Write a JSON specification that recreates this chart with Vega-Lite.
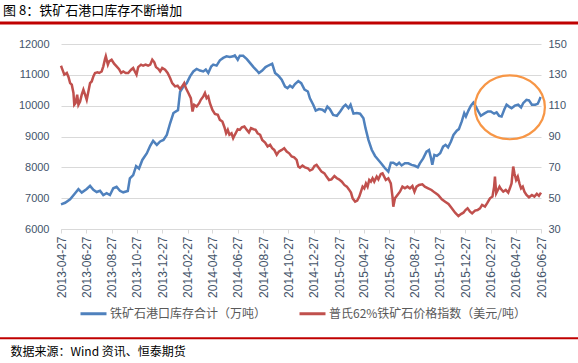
{
"$schema": "https://vega.github.io/schema/vega-lite/v6.json",
"width": 480,
"height": 185,
"autosize": {"type": "none"},
"padding": {"left": 61, "top": 44, "right": 37, "bottom": 134},
"background": "white",
"config": {
 "view": {"stroke": null},
 "font": "Noto Sans CJK SC",
 "axisX": {"labelAngle": 270, "labelFontSize": 12, "labelFont": "Liberation Sans", "labelColor": "#44546A", "labelFlush": false, "labelOverlap": false, "labelBound": false, "labelPadding": 3, "tickColor": "#D9D9D9", "tickSize": 4, "domainColor": "#D9D9D9", "grid": false, "titleX": -51, "titleY": 122, "titleAlign": "left", "titleAnchor": "start", "titleBaseline": "middle", "titleAngle": 0, "titleFontSize": 12, "titleFontWeight": "normal", "titleColor": "#000000", "titleFont": "Noto Sans CJK SC"},
 "axisLeft": {"grid": true, "gridColor": "#D9D9D9", "domain": false, "ticks": false, "labelPadding": 12, "labelFontSize": 11, "labelFont": "Liberation Sans", "labelColor": "#44546A", "labelOverlap": false},
 "axisRight": {"grid": false, "domain": false, "ticks": false, "labelPadding": 7, "labelFontSize": 11, "labelFont": "Liberation Sans", "labelColor": "#44546A", "labelOverlap": false}
},
"title": {"text": "图 8：铁矿石港口库存不断增加", "anchor": "start", "frame": "group", "dx": -58, "fontSize": 13, "fontWeight": "normal", "color": "#000000", "font": "Noto Sans CJK SC", "offset": 3},
"datasets": {
"inventory": [
{"date":"2013-04-27","value":6800},{"date":"2013-05-07","value":6850},{"date":"2013-05-19","value":6960},{"date":"2013-05-31","value":7160},{"date":"2013-06-08","value":7290},{"date":"2013-06-16","value":7180},{"date":"2013-06-28","value":7300},{"date":"2013-07-06","value":7400},{"date":"2013-07-14","value":7270},{"date":"2013-07-22","value":7200},{"date":"2013-07-30","value":7240},{"date":"2013-08-07","value":7100},{"date":"2013-08-15","value":7160},{"date":"2013-08-23","value":7100},{"date":"2013-08-31","value":7320},{"date":"2013-09-08","value":7370},{"date":"2013-09-16","value":7240},{"date":"2013-09-24","value":7190},{"date":"2013-10-05","value":7230},{"date":"2013-10-10","value":7640},{"date":"2013-10-18","value":7750},{"date":"2013-10-25","value":8040},{"date":"2013-11-01","value":7960},{"date":"2013-11-09","value":8240},{"date":"2013-11-20","value":8460},{"date":"2013-11-28","value":8700},{"date":"2013-12-05","value":8860},{"date":"2013-12-14","value":8730},{"date":"2013-12-22","value":8840},{"date":"2013-12-30","value":8890},{"date":"2014-01-07","value":9050},{"date":"2014-01-15","value":9430},{"date":"2014-01-23","value":9760},{"date":"2014-01-31","value":9830},{"date":"2014-02-03","value":9850},{"date":"2014-02-08","value":10450},{"date":"2014-02-16","value":10620},{"date":"2014-02-24","value":10730},{"date":"2014-03-04","value":10950},{"date":"2014-03-12","value":11110},{"date":"2014-03-20","value":11190},{"date":"2014-03-28","value":11140},{"date":"2014-04-05","value":11110},{"date":"2014-04-11","value":11170},{"date":"2014-04-17","value":11060},{"date":"2014-04-24","value":11270},{"date":"2014-04-29","value":11330},{"date":"2014-05-07","value":11300},{"date":"2014-05-15","value":11470},{"date":"2014-05-23","value":11550},{"date":"2014-05-31","value":11600},{"date":"2014-06-08","value":11580},{"date":"2014-06-16","value":11600},{"date":"2014-06-20","value":11630},{"date":"2014-06-27","value":11490},{"date":"2014-07-02","value":11620},{"date":"2014-07-10","value":11620},{"date":"2014-07-19","value":11510},{"date":"2014-07-27","value":11380},{"date":"2014-08-04","value":11250},{"date":"2014-08-12","value":11140},{"date":"2014-08-17","value":11060},{"date":"2014-08-25","value":11140},{"date":"2014-09-02","value":11250},{"date":"2014-09-10","value":11310},{"date":"2014-09-18","value":11360},{"date":"2014-09-25","value":11060},{"date":"2014-10-03","value":10970},{"date":"2014-10-11","value":10840},{"date":"2014-10-19","value":10620},{"date":"2014-10-25","value":10570},{"date":"2014-10-31","value":10650},{"date":"2014-11-06","value":10590},{"date":"2014-11-12","value":10700},{"date":"2014-11-20","value":10800},{"date":"2014-11-27","value":10730},{"date":"2014-12-05","value":10520},{"date":"2014-12-13","value":10460},{"date":"2014-12-18","value":10240},{"date":"2014-12-26","value":10030},{"date":"2015-01-01","value":9840},{"date":"2015-01-09","value":9890},{"date":"2015-01-17","value":9870},{"date":"2015-01-23","value":9810},{"date":"2015-01-29","value":9970},{"date":"2015-02-04","value":9890},{"date":"2015-02-12","value":9700},{"date":"2015-02-21","value":9670},{"date":"2015-03-01","value":9810},{"date":"2015-03-09","value":9970},{"date":"2015-03-14","value":10030},{"date":"2015-03-21","value":9920},{"date":"2015-03-26","value":10030},{"date":"2015-04-02","value":9740},{"date":"2015-04-10","value":9760},{"date":"2015-04-18","value":9740},{"date":"2015-04-26","value":9590},{"date":"2015-05-01","value":9270},{"date":"2015-05-08","value":8890},{"date":"2015-05-16","value":8570},{"date":"2015-05-24","value":8370},{"date":"2015-06-01","value":8240},{"date":"2015-06-09","value":8110},{"date":"2015-06-17","value":7970},{"date":"2015-06-25","value":7860},{"date":"2015-07-01","value":8150},{"date":"2015-07-07","value":8150},{"date":"2015-07-15","value":8080},{"date":"2015-07-21","value":8150},{"date":"2015-07-27","value":8060},{"date":"2015-08-04","value":8130},{"date":"2015-08-12","value":8130},{"date":"2015-08-20","value":8080},{"date":"2015-08-28","value":8050},{"date":"2015-09-04","value":8000},{"date":"2015-09-09","value":8130},{"date":"2015-09-17","value":8290},{"date":"2015-09-25","value":8510},{"date":"2015-10-01","value":8560},{"date":"2015-10-06","value":8290},{"date":"2015-10-09","value":8080},{"date":"2015-10-14","value":8400},{"date":"2015-10-20","value":8370},{"date":"2015-10-28","value":8460},{"date":"2015-11-04","value":8670},{"date":"2015-11-10","value":8730},{"date":"2015-11-16","value":8650},{"date":"2015-11-23","value":8840},{"date":"2015-11-29","value":9050},{"date":"2015-12-07","value":9190},{"date":"2015-12-12","value":9240},{"date":"2015-12-19","value":9490},{"date":"2015-12-25","value":9760},{"date":"2015-12-29","value":9650},{"date":"2016-01-04","value":9840},{"date":"2016-01-10","value":10000},{"date":"2016-01-16","value":10100},{"date":"2016-01-22","value":9970},{"date":"2016-01-28","value":9810},{"date":"2016-02-03","value":9670},{"date":"2016-02-11","value":9740},{"date":"2016-02-20","value":9810},{"date":"2016-02-27","value":9810},{"date":"2016-03-06","value":9740},{"date":"2016-03-12","value":9780},{"date":"2016-03-18","value":9670},{"date":"2016-03-24","value":9650},{"date":"2016-03-31","value":9890},{"date":"2016-04-05","value":10030},{"date":"2016-04-11","value":9970},{"date":"2016-04-17","value":9920},{"date":"2016-04-25","value":10000},{"date":"2016-05-03","value":10030},{"date":"2016-05-10","value":9940},{"date":"2016-05-15","value":10080},{"date":"2016-05-23","value":10190},{"date":"2016-05-29","value":10170},{"date":"2016-06-05","value":10030},{"date":"2016-06-13","value":10030},{"date":"2016-06-19","value":10060},{"date":"2016-06-22","value":10140},{"date":"2016-06-26","value":10280}
],
"price": [
{"date":"2013-04-27","value":135.9},{"date":"2013-04-30","value":133.7},{"date":"2013-05-05","value":130.1},{"date":"2013-05-11","value":131.2},{"date":"2013-05-15","value":128.6},{"date":"2013-05-19","value":124.6},{"date":"2013-05-23","value":123.6},{"date":"2013-05-27","value":118.2},{"date":"2013-05-29","value":110.6},{"date":"2013-06-01","value":111.6},{"date":"2013-06-05","value":117.1},{"date":"2013-06-08","value":110.6},{"date":"2013-06-12","value":112.7},{"date":"2013-06-16","value":117.1},{"date":"2013-06-20","value":120.3},{"date":"2013-06-24","value":117.1},{"date":"2013-06-28","value":113.8},{"date":"2013-07-02","value":119.2},{"date":"2013-07-06","value":124.6},{"date":"2013-07-10","value":125.7},{"date":"2013-07-14","value":129.0},{"date":"2013-07-18","value":131.2},{"date":"2013-07-24","value":131.6},{"date":"2013-07-28","value":131.2},{"date":"2013-08-03","value":132.2},{"date":"2013-08-07","value":135.5},{"date":"2013-08-11","value":140.2},{"date":"2013-08-13","value":142.0},{"date":"2013-08-18","value":136.6},{"date":"2013-08-21","value":138.7},{"date":"2013-08-27","value":139.8},{"date":"2013-09-02","value":137.2},{"date":"2013-09-08","value":135.5},{"date":"2013-09-14","value":133.7},{"date":"2013-09-19","value":131.2},{"date":"2013-09-24","value":132.2},{"date":"2013-09-30","value":131.2},{"date":"2013-10-06","value":131.2},{"date":"2013-10-13","value":133.3},{"date":"2013-10-18","value":134.4},{"date":"2013-10-22","value":132.2},{"date":"2013-10-26","value":130.1},{"date":"2013-10-30","value":135.0},{"date":"2013-11-06","value":136.6},{"date":"2013-11-11","value":135.9},{"date":"2013-11-17","value":136.6},{"date":"2013-11-23","value":135.9},{"date":"2013-11-28","value":136.6},{"date":"2013-12-03","value":139.8},{"date":"2013-12-08","value":138.1},{"date":"2013-12-12","value":135.0},{"date":"2013-12-18","value":133.7},{"date":"2013-12-22","value":132.2},{"date":"2013-12-27","value":134.4},{"date":"2014-01-03","value":133.3},{"date":"2014-01-09","value":131.2},{"date":"2014-01-15","value":127.9},{"date":"2014-01-20","value":124.6},{"date":"2014-01-27","value":122.5},{"date":"2014-02-02","value":122.9},{"date":"2014-02-08","value":120.8},{"date":"2014-02-13","value":122.5},{"date":"2014-02-18","value":124.6},{"date":"2014-02-22","value":121.4},{"date":"2014-02-28","value":118.2},{"date":"2014-03-06","value":114.9},{"date":"2014-03-10","value":106.2},{"date":"2014-03-14","value":110.6},{"date":"2014-03-20","value":109.5},{"date":"2014-03-26","value":111.6},{"date":"2014-03-30","value":113.8},{"date":"2014-04-05","value":116.0},{"date":"2014-04-09","value":118.2},{"date":"2014-04-13","value":114.9},{"date":"2014-04-17","value":116.0},{"date":"2014-04-21","value":111.6},{"date":"2014-04-27","value":107.3},{"date":"2014-05-03","value":104.7},{"date":"2014-05-10","value":104.1},{"date":"2014-05-15","value":100.8},{"date":"2014-05-21","value":99.7},{"date":"2014-05-26","value":96.0},{"date":"2014-05-30","value":92.1},{"date":"2014-06-03","value":94.3},{"date":"2014-06-07","value":91.1},{"date":"2014-06-12","value":92.1},{"date":"2014-06-16","value":88.9},{"date":"2014-06-20","value":91.1},{"date":"2014-06-27","value":94.7},{"date":"2014-07-02","value":94.3},{"date":"2014-07-07","value":96.0},{"date":"2014-07-13","value":96.5},{"date":"2014-07-19","value":94.3},{"date":"2014-07-24","value":92.6},{"date":"2014-07-29","value":95.4},{"date":"2014-08-04","value":94.7},{"date":"2014-08-09","value":94.3},{"date":"2014-08-14","value":92.1},{"date":"2014-08-20","value":91.1},{"date":"2014-08-25","value":87.8},{"date":"2014-09-01","value":86.1},{"date":"2014-09-07","value":83.5},{"date":"2014-09-13","value":84.6},{"date":"2014-09-18","value":82.4},{"date":"2014-09-23","value":81.3},{"date":"2014-09-29","value":78.1},{"date":"2014-10-04","value":80.2},{"date":"2014-10-11","value":81.3},{"date":"2014-10-17","value":82.4},{"date":"2014-10-23","value":80.2},{"date":"2014-10-29","value":79.1},{"date":"2014-11-04","value":77.0},{"date":"2014-11-10","value":76.5},{"date":"2014-11-16","value":74.8},{"date":"2014-11-20","value":70.5},{"date":"2014-11-24","value":69.8},{"date":"2014-11-30","value":71.1},{"date":"2014-12-06","value":70.0},{"date":"2014-12-13","value":69.4},{"date":"2014-12-18","value":67.9},{"date":"2014-12-24","value":68.7},{"date":"2014-12-29","value":70.9},{"date":"2015-01-03","value":71.6},{"date":"2015-01-09","value":69.4},{"date":"2015-01-15","value":67.2},{"date":"2015-01-22","value":66.1},{"date":"2015-01-27","value":64.0},{"date":"2015-02-02","value":61.8},{"date":"2015-02-08","value":62.2},{"date":"2015-02-15","value":64.4},{"date":"2015-02-21","value":62.9},{"date":"2015-02-26","value":62.2},{"date":"2015-03-05","value":60.7},{"date":"2015-03-11","value":58.6},{"date":"2015-03-17","value":57.5},{"date":"2015-03-22","value":55.7},{"date":"2015-03-27","value":53.6},{"date":"2015-03-31","value":49.9},{"date":"2015-04-06","value":47.7},{"date":"2015-04-11","value":48.4},{"date":"2015-04-16","value":51.0},{"date":"2015-04-20","value":54.2},{"date":"2015-04-24","value":57.5},{"date":"2015-04-28","value":56.4},{"date":"2015-05-02","value":59.6},{"date":"2015-05-06","value":57.5},{"date":"2015-05-10","value":61.8},{"date":"2015-05-14","value":60.7},{"date":"2015-05-18","value":62.9},{"date":"2015-05-22","value":60.7},{"date":"2015-05-28","value":64.0},{"date":"2015-06-01","value":62.2},{"date":"2015-06-07","value":65.7},{"date":"2015-06-11","value":66.1},{"date":"2015-06-15","value":64.0},{"date":"2015-06-19","value":61.8},{"date":"2015-06-25","value":62.9},{"date":"2015-07-01","value":59.6},{"date":"2015-07-05","value":51.0},{"date":"2015-07-07","value":44.5},{"date":"2015-07-11","value":49.9},{"date":"2015-07-17","value":52.1},{"date":"2015-07-23","value":54.2},{"date":"2015-07-29","value":57.5},{"date":"2015-08-04","value":56.4},{"date":"2015-08-10","value":57.5},{"date":"2015-08-16","value":56.4},{"date":"2015-08-22","value":57.9},{"date":"2015-08-27","value":54.2},{"date":"2015-09-01","value":57.5},{"date":"2015-09-07","value":58.6},{"date":"2015-09-15","value":59.0},{"date":"2015-09-21","value":57.5},{"date":"2015-09-29","value":56.4},{"date":"2015-10-07","value":55.3},{"date":"2015-10-15","value":53.6},{"date":"2015-10-23","value":52.1},{"date":"2015-11-01","value":49.2},{"date":"2015-11-09","value":47.7},{"date":"2015-11-17","value":46.2},{"date":"2015-11-25","value":43.4},{"date":"2015-12-03","value":40.6},{"date":"2015-12-11","value":38.4},{"date":"2015-12-17","value":39.7},{"date":"2015-12-23","value":40.6},{"date":"2015-12-28","value":42.3},{"date":"2016-01-02","value":43.4},{"date":"2016-01-08","value":41.2},{"date":"2016-01-13","value":40.1},{"date":"2016-01-20","value":41.9},{"date":"2016-01-26","value":42.3},{"date":"2016-02-01","value":43.4},{"date":"2016-02-06","value":45.6},{"date":"2016-02-13","value":44.5},{"date":"2016-02-19","value":47.1},{"date":"2016-02-25","value":49.9},{"date":"2016-03-02","value":51.0},{"date":"2016-03-06","value":57.5},{"date":"2016-03-08","value":64.0},{"date":"2016-03-11","value":53.1},{"date":"2016-03-15","value":55.3},{"date":"2016-03-19","value":57.5},{"date":"2016-03-23","value":55.7},{"date":"2016-03-28","value":54.2},{"date":"2016-04-03","value":55.3},{"date":"2016-04-09","value":53.6},{"date":"2016-04-13","value":56.4},{"date":"2016-04-17","value":59.6},{"date":"2016-04-21","value":70.5},{"date":"2016-04-24","value":66.1},{"date":"2016-04-28","value":61.8},{"date":"2016-05-02","value":64.0},{"date":"2016-05-06","value":59.6},{"date":"2016-05-10","value":56.4},{"date":"2016-05-14","value":57.5},{"date":"2016-05-18","value":54.2},{"date":"2016-05-23","value":52.1},{"date":"2016-05-29","value":50.6},{"date":"2016-06-05","value":52.1},{"date":"2016-06-11","value":51.0},{"date":"2016-06-17","value":52.8},{"date":"2016-06-22","value":51.5},{"date":"2016-06-27","value":53.6}
]
},
"layer": [
{
 "layer": [
  {
   "data": {"name": "inventory"},
   "mark": {"type": "line", "strokeWidth": 2.5, "interpolate": "linear"},
   "encoding": {
    "x": {"field": "date", "type": "temporal",
     "scale": {"type": "utc", "domain": [1367020800000, 1466985600000], "nice": false},
     "axis": {"values": [1367020800000,1372291200000,1377561600000,1382832000000,1388102400000,1393459200000,1398556800000,1403827200000,1409097600000,1414368000000,1419638400000,1424995200000,1430092800000,1435363200000,1440633600000,1445904000000,1451174400000,1456531200000,1461715200000,1466985600000], "format": "%Y-%m-%d", "title": "数据来源：Wind 资讯、恒泰期货"}},
    "y": {"field": "value", "type": "quantitative", "scale": {"domain": [6000, 12000], "nice": false, "zero": false},
     "axis": {"orient": "left", "values": [6000,7000,8000,9000,10000,11000,12000], "format": "d", "title": null}},
    "color": {"datum": "铁矿石港口库存合计（万吨）", "type": "nominal",
     "scale": {"domain": ["铁矿石港口库存合计（万吨）", "普氏62%铁矿石价格指数（美元/吨）"], "range": ["#4F81BD", "#C0504D"]},
     "legend": {"orient": "none", "legendX": 18, "legendY": 255, "direction": "horizontal", "symbolType": "stroke", "symbolStrokeWidth": 3, "symbolSize": 676, "labelFontSize": 12, "labelColor": "#595959", "labelFont": "Noto Sans CJK SC", "labelLimit": 0, "title": null, "columnPadding": 26, "labelOffset": 2}}
   }
  },
  {
   "data": {"values": [{"k": 1}]},
   "mark": {"type": "point", "shape": "M -1 0 A 1 0.914 0 1 1 1 0 A 1 0.914 0 1 1 -1 0 Z", "filled": false, "color": "#F79646", "strokeWidth": 2.2, "opacity": 1, "size": 4900},
   "encoding": {
    "x": {"datum": 1460505600000, "type": "temporal",
     "scale": {"type": "utc", "domain": [1367020800000, 1466985600000], "nice": false},
     "axis": {"values": [1367020800000,1372291200000,1377561600000,1382832000000,1388102400000,1393459200000,1398556800000,1403827200000,1409097600000,1414368000000,1419638400000,1424995200000,1430092800000,1435363200000,1440633600000,1445904000000,1451174400000,1456531200000,1461715200000,1466985600000], "format": "%Y-%m-%d", "title": "数据来源：Wind 资讯、恒泰期货"}},
    "y": {"datum": 9948, "type": "quantitative",
     "axis": {"orient": "left", "values": [6000,7000,8000,9000,10000,11000,12000], "format": "d", "title": null}}
   }
  },
  {
   "data": {"values": [{"k": 1}]},
   "mark": {"type": "rule", "color": "#C00000", "strokeWidth": 3},
   "encoding": {
    "x": {"datum": 1353369600000, "type": "temporal",
     "scale": {"type": "utc", "domain": [1367020800000, 1466985600000], "nice": false},
     "axis": {"values": [1367020800000,1372291200000,1377561600000,1382832000000,1388102400000,1393459200000,1398556800000,1403827200000,1409097600000,1414368000000,1419638400000,1424995200000,1430092800000,1435363200000,1440633600000,1445904000000,1451174400000,1456531200000,1461715200000,1466985600000], "format": "%Y-%m-%d", "title": "数据来源：Wind 资讯、恒泰期货"}},
    "x2": {"datum": 1475625600000},
    "y": {"datum": 12682, "type": "quantitative",
     "axis": {"orient": "left", "values": [6000,7000,8000,9000,10000,11000,12000], "format": "d", "title": null}}
   }
  },
  {
   "data": {"values": [{"k": 1}]},
   "mark": {"type": "rule", "color": "#C00000", "strokeWidth": 2},
   "encoding": {
    "x": {"datum": 1353369600000, "type": "temporal",
     "scale": {"type": "utc", "domain": [1367020800000, 1466985600000], "nice": false},
     "axis": {"values": [1367020800000,1372291200000,1377561600000,1382832000000,1388102400000,1393459200000,1398556800000,1403827200000,1409097600000,1414368000000,1419638400000,1424995200000,1430092800000,1435363200000,1440633600000,1445904000000,1451174400000,1456531200000,1461715200000,1466985600000], "format": "%Y-%m-%d", "title": "数据来源：Wind 资讯、恒泰期货"}},
    "x2": {"datum": 1475625600000},
    "y": {"datum": 2455, "type": "quantitative",
     "axis": {"orient": "left", "values": [6000,7000,8000,9000,10000,11000,12000], "format": "d", "title": null}}
   }
  }
 ]
},
{
 "data": {"name": "price"},
 "mark": {"type": "line", "strokeWidth": 2.5, "interpolate": "linear"},
 "encoding": {
  "x": {"field": "date", "type": "temporal",
   "scale": {"type": "utc", "domain": [1367020800000, 1466985600000], "nice": false},
   "axis": {"values": [1367020800000,1372291200000,1377561600000,1382832000000,1388102400000,1393459200000,1398556800000,1403827200000,1409097600000,1414368000000,1419638400000,1424995200000,1430092800000,1435363200000,1440633600000,1445904000000,1451174400000,1456531200000,1461715200000,1466985600000], "format": "%Y-%m-%d", "title": "数据来源：Wind 资讯、恒泰期货"}},
  "y": {"field": "value", "type": "quantitative", "scale": {"domain": [30, 150], "nice": false, "zero": false},
   "axis": {"orient": "right", "values": [30,50,70,90,110,130,150], "title": null}},
  "color": {"datum": "普氏62%铁矿石价格指数（美元/吨）", "type": "nominal"}
 }
}
],
"resolve": {"scale": {"y": "independent"}}
}
